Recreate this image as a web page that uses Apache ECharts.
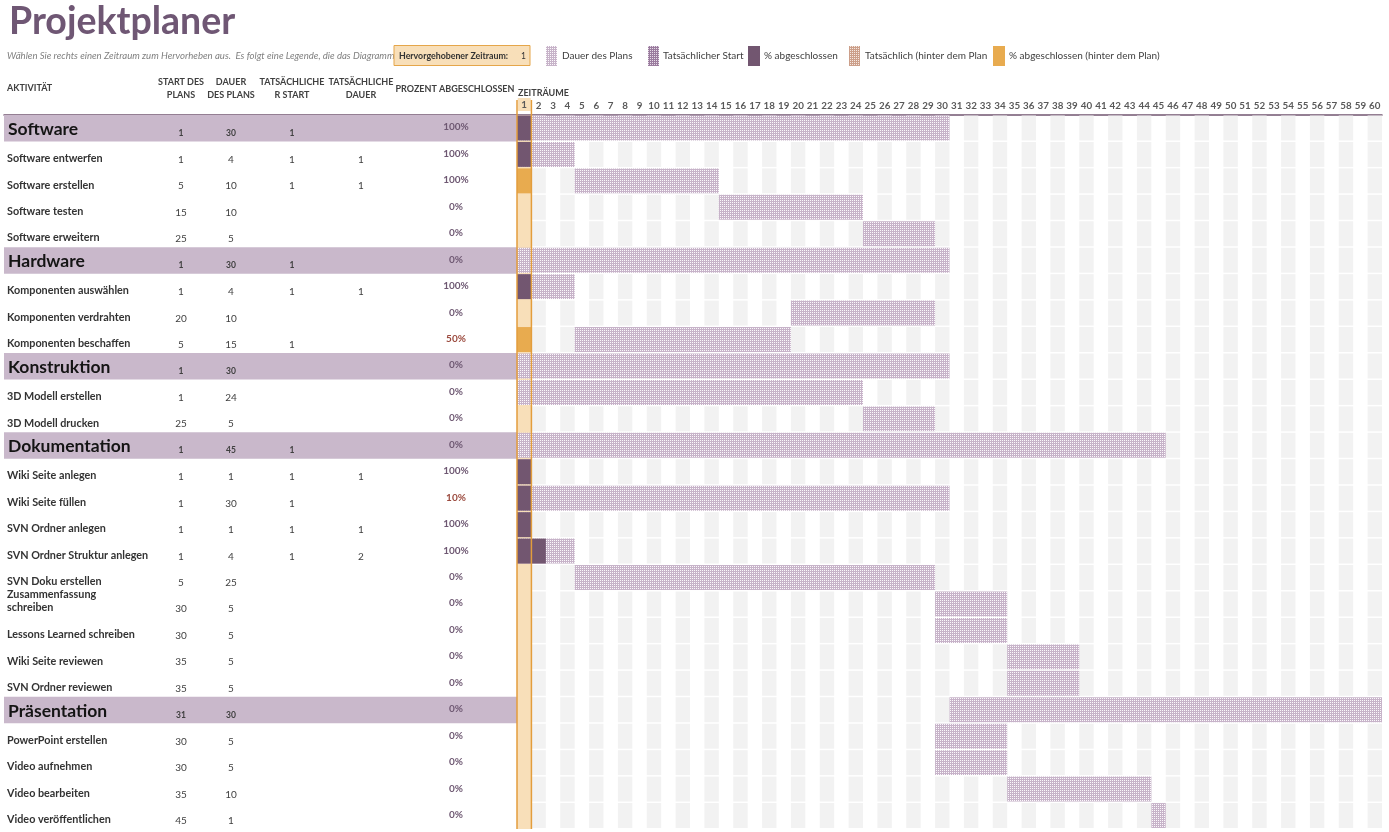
<!DOCTYPE html>
<html><head><meta charset="utf-8">
<script src="https://cdn.jsdelivr.net/npm/echarts@6/dist/echarts.min.js"></script>
<style>html,body{margin:0;padding:0;background:#fff}#c{width:1389px;height:832px}</style>
</head><body><div id="c"></div>
<script>
// ---------- DATA ----------
const periods = ['1','2','3','4','5','6','7','8','9','10','11','12','13','14','15','16','17','18','19','20',
  '21','22','23','24','25','26','27','28','29','30','31','32','33','34','35','36','37','38','39','40',
  '41','42','43','44','45','46','47','48','49','50','51','52','53','54','55','56','57','58','59','60'];
const activities = ['Software','Software entwerfen','Software erstellen','Software testen','Software erweitern',
  'Hardware','Komponenten auswählen','Komponenten verdrahten','Komponenten beschaffen',
  'Konstruktion','3D Modell erstellen','3D Modell drucken',
  'Dokumentation','Wiki Seite anlegen','Wiki Seite füllen','SVN Ordner anlegen','SVN Ordner Struktur anlegen',
  'SVN Doku erstellen','Zusammenfassung\nschreiben','Lessons Learned schreiben','Wiki Seite reviewen','SVN Ordner reviewen',
  'Präsentation','PowerPoint erstellen','Video aufnehmen','Video bearbeiten','Video veröffentlichen'];
const groupRows = [true,false,false,false,false, true,false,false,false, true,false,false,
  true,false,false,false,false,false,false,false,false,false, true,false,false,false,false];
const planStart    = [1,1,5,15,25, 1,1,20,5, 1,1,25, 1,1,1,1,1,5,30,30,35,35, 31,30,30,35,45];
const planDuration = [30,4,10,10,5, 30,4,10,15, 30,24,5, 45,1,30,1,4,25,5,5,5,5, 30,5,5,10,1];
const actualStart  = [1,1,1,null,null, 1,1,null,1, null,null,null, 1,1,1,1,1,null,null,null,null,null, null,null,null,null,null];
const actualDuration = [null,1,1,null,null, null,1,null,null, null,null,null, null,1,null,1,2,null,null,null,null,null, null,null,null,null,null];
const percentComplete = [100,100,100,0,0, 0,100,0,50, 0,0,0, 0,100,10,100,100,0,0,0,0,0, 0,0,0,0,0];
const highlightPeriod = 1;

// ---------- STYLE ----------
const FONT = 'Lato, "Open Sans", sans-serif';
const C = {
  title:'#6f5774', purple:'#725670', groupBg:'#c9b8cb', stripe:'#f2f2f2',
  hl:'#f8dfb9', orange:'#e8ab4f', orangeLine:'#e39d3c', text:'#333333', num:'#404040',
  pct:'#6e5872', pctPart:'#9b4a3e'
};
function makePattern(dot, bg) {
  const cv = document.createElement('canvas'); cv.width = 2; cv.height = 2;
  const g = cv.getContext('2d');
  g.fillStyle = dot; g.fillRect(0,0,2,2);
  g.fillStyle = bg; g.fillRect(0,0,1,1);
  return {image: cv, repeat: 'repeat'};
}
const planPattern = makePattern('#c7b3c9', '#fbf8fb');
const actualPattern = makePattern('#9a7b9e', '#e6dbe7');
const behindPattern = makePattern('#cc9f8a', '#f5e9e2');

// columns of the left table (pixel positions in its own axis)
const COL = {name:7, start:181, dur:231, aStart:292, aDur:361, pct:456};

const rowIdx = activities.map((_, i) => i);

const chart = echarts.init(document.getElementById('c'), null, {renderer:'canvas'});

function txt(x, y, text, font, fill, align, va, extra) {
  return Object.assign({type:'text', x:x, y:y, style:{text:text, font:font, fill:fill,
    align:align||'left', textAlign:align||'left', verticalAlign:va||'middle', textVerticalAlign:va||'middle', lineHeight:13}}, extra||{});
}

const HF = 'bold 9px ' + FONT;
const graphics = [
  txt(9, 22, 'Projektplaner', 'bold 37.5px ' + FONT, C.title),
  txt(7, 56, 'Wählen Sie rechts einen Zeitraum zum Hervorheben aus.  Es folgt eine Legende, die das Diagramm beschreibt.', 'italic 9.6px ' + FONT, '#808080'),
  {type:'rect', shape:{x:394, y:45.5, width:136, height:20}, style:{fill:C.hl, stroke:'#e5a64a', lineWidth:1}, z:10},
  txt(399, 56, 'Hervorgehobener Zeitraum:', 'bold 8.8px ' + FONT, '#333', 'left', 'middle', {z:11}),
  txt(521, 56, String(highlightPeriod), '8.5px ' + FONT, '#333', 'left', 'middle', {z:11}),
  {type:'rect', shape:{x:546, y:46, width:11, height:20}, style:{fill:planPattern}},
  txt(562, 56, 'Dauer des Plans', '10px ' + FONT, '#404040'),
  {type:'rect', shape:{x:648, y:46, width:11, height:20}, style:{fill:actualPattern}},
  txt(663, 56, 'Tatsächlicher Start', '10px ' + FONT, '#404040'),
  {type:'rect', shape:{x:748, y:46, width:12, height:20}, style:{fill:C.purple}},
  txt(764, 56, '% abgeschlossen', '10px ' + FONT, '#404040'),
  {type:'rect', shape:{x:849, y:46, width:11, height:20}, style:{fill:behindPattern}},
  txt(865, 56, 'Tatsächlich (hinter dem Plan', '10px ' + FONT, '#404040'),
  {type:'rect', shape:{x:993, y:46, width:12, height:20}, style:{fill:C.orange}, z:5},
  txt(1009, 56, '% abgeschlossen (hinter dem Plan)', '10px ' + FONT, '#404040'),
  txt(7, 88, 'AKTIVITÄT', HF, C.num),
  txt(181, 88.5, 'START DES\nPLANS', HF, C.num, 'center'),
  txt(231, 88.5, 'DAUER\nDES PLANS', HF, C.num, 'center'),
  txt(292, 88.5, 'TATSÄCHLICHE\nR START', HF, C.num, 'center'),
  txt(361, 88.5, 'TATSÄCHLICHE\nDAUER', HF, C.num, 'center'),
  txt(455, 89, 'PROZENT ABGESCHLOSSEN', HF, C.num, 'center'),
  txt(518, 93, 'ZEITRÄUME', HF, C.num)
];

const option = {
  animation:false,
  backgroundColor:'#ffffff',
  graphic: graphics,
  grid:[
    {left:517, right:7, top:115, height:714},
    {left:4, width:513, top:115, height:714}
  ],
  xAxis:[
    {type:'category', gridIndex:0, data:periods, position:'top', boundaryGap:true,
      axisLine:{show:true, lineStyle:{color:C.purple, width:1.5}}, axisTick:{show:false},
      axisLabel:{margin:4, interval:0, fontFamily:FONT, fontWeight:'bold', fontSize:9.8, color:'#595959',
        formatter:v => (Number(v) === highlightPeriod ? '{hl|' + v + '}' : v),
        rich:{hl:{backgroundColor:C.hl, width:13, align:'center', padding:[2,0,1,0], fontFamily:FONT, fontWeight:'bold', fontSize:9.8, color:'#595959'}}},
      splitLine:{show:false}},
    {type:'value', gridIndex:0, min:0, max:60, show:false},
    {type:'value', gridIndex:1, min:4, max:517, position:'top',
      axisLine:{show:true, onZero:false, lineStyle:{color:C.purple, width:1.5}}, axisTick:{show:false},
      axisLabel:{show:false}, splitLine:{show:false}}
  ],
  yAxis:[
    {type:'category', gridIndex:0, data:activities, inverse:true, show:false},
    {type:'category', gridIndex:1, data:activities, inverse:true, show:false}
  ],
  series:[
    { // column stripes
      type:'custom', name:'Zeiträume', xAxisIndex:1, yAxisIndex:0, z:1, silent:true,
      data: rowIdx.map(i => [i]),
      renderItem:(params, api) => {
        const row = api.value(0), h = api.size([0,1])[1];
        const kids = [];
        for (let k = 1; k < periods.length; k += 2) {
          const a = api.coord([k, row]), b = api.coord([k + 1, row]);
          kids.push({type:'rect', shape:{x:a[0], y:a[1] - h/2 + 0.5, width:b[0]-a[0], height:h - 1.5}, style:{fill:C.stripe}});
        }
        return {type:'group', children:kids};
      }
    },
    { // highlighted period column
      type:'custom', name:'Hervorgehobener Zeitraum', xAxisIndex:1, yAxisIndex:0, z:2, silent:true,
      data:[[highlightPeriod]],
      renderItem:(params, api) => {
        const cs = params.coordSys;
        const a = api.coord([api.value(0) - 1, 0]), b = api.coord([api.value(0), 0]);
        return {type:'rect', shape:{x:a[0], y:cs.y, width:b[0]-a[0], height:cs.height}, style:{fill:C.hl}};
      }
    },
    { // planned duration
      type:'custom', name:'Dauer des Plans', xAxisIndex:1, yAxisIndex:0, z:3,
      data: rowIdx.map(i => [planStart[i], planDuration[i], i]),
      renderItem:(params, api) => {
        const s = api.value(0), d = api.value(1), row = api.value(2), h = api.size([0,1])[1];
        const a = api.coord([s - 1, row]), b = api.coord([s - 1 + d, row]);
        return {type:'rect', shape:{x:a[0], y:a[1] - h/2 + 0.5, width:b[0]-a[0], height:h - 1.5}, style:{fill:planPattern}};
      }
    },
    { // % complete
      type:'custom', name:'% abgeschlossen', xAxisIndex:1, yAxisIndex:0, z:4,
      data: rowIdx.filter(i => actualStart[i] != null && percentComplete[i] > 0).map(i => [
        actualStart[i], Math.ceil((actualDuration[i] || 1) * percentComplete[i] / 100), i,
        actualStart[i] < planStart[i] ? 1 : 0]),
      renderItem:(params, api) => {
        const s = api.value(0), d = api.value(1), row = api.value(2), h = api.size([0,1])[1];
        const a = api.coord([s - 1, row]), b = api.coord([s - 1 + d, row]);
        return {type:'rect', shape:{x:a[0], y:a[1] - h/2 + 0.5, width:b[0]-a[0], height:h - 1.5},
          style:{fill: api.value(3) ? C.orange : C.purple}};
      }
    },
    { // orange border of highlighted column
      type:'custom', name:'Markierung', xAxisIndex:1, yAxisIndex:0, z:6, silent:true,
      data:[[highlightPeriod]],
      renderItem:(params, api) => {
        const cs = params.coordSys;
        const a = api.coord([api.value(0) - 1, 0]), b = api.coord([api.value(0), 0]);
        const st = {stroke:C.orangeLine, lineWidth:1.5};
        return {type:'group', children:[
          {type:'line', shape:{x1:a[0], y1:cs.y - 15, x2:a[0], y2:cs.y + cs.height}, style:st},
          {type:'line', shape:{x1:b[0], y1:cs.y - 15, x2:b[0], y2:cs.y + cs.height}, style:st}
        ]};
      }
    },
    { // group row background in table
      type:'custom', name:'Gruppen', xAxisIndex:2, yAxisIndex:1, z:1, silent:true,
      data: rowIdx.filter(i => groupRows[i]).map(i => [i]),
      renderItem:(params, api) => {
        const row = api.value(0), h = api.size([0,1])[1];
        const a = api.coord([4, row]), b = api.coord([517, row]);
        return {type:'rect', shape:{x:a[0], y:a[1] - h/2, width:b[0]-a[0], height:h}, style:{fill:C.groupBg}};
      }
    },
    { // table text
      type:'custom', name:'Tabelle', xAxisIndex:2, yAxisIndex:1, z:3, silent:true,
      data: rowIdx.map(i => [i]),
      renderItem:(params, api) => {
        const i = api.value(0);
        const y = api.coord([COL.name, i])[1];
        const X = k => api.coord([COL[k], i])[0];
        const g = groupRows[i];
        const numFont = g ? 'bold 8.5px ' + FONT : '10px ' + FONT;
        const ny = y + 5;
        const kids = [];
        if (g) kids.push(txt(X('name') + 1, y + 1, activities[i], 'bold 17.5px ' + FONT, '#141414'));
        else if (activities[i].indexOf('\n') >= 0) kids.push(txt(X('name'), y - 3, activities[i], 'bold 10.8px ' + FONT, C.text));
        else kids.push(txt(X('name'), y + 4, activities[i], 'bold 10.8px ' + FONT, C.text));
        kids.push(txt(X('start'), ny, String(planStart[i]), numFont, C.num, 'center'));
        kids.push(txt(X('dur'), ny, String(planDuration[i]), numFont, C.num, 'center'));
        if (actualStart[i] != null) kids.push(txt(X('aStart'), ny, String(actualStart[i]), numFont, C.num, 'center'));
        if (actualDuration[i] != null) kids.push(txt(X('aDur'), ny, String(actualDuration[i]), numFont, C.num, 'center'));
        const p = percentComplete[i];
        kids.push(txt(X('pct'), y - 1, p + '%', 'bold 10px ' + FONT, (p > 0 && p < 100) ? C.pctPart : C.pct, 'center'));
        return {type:'group', children:kids};
      }
    }
  ]
};
chart.setOption(option);
</script></body></html>
